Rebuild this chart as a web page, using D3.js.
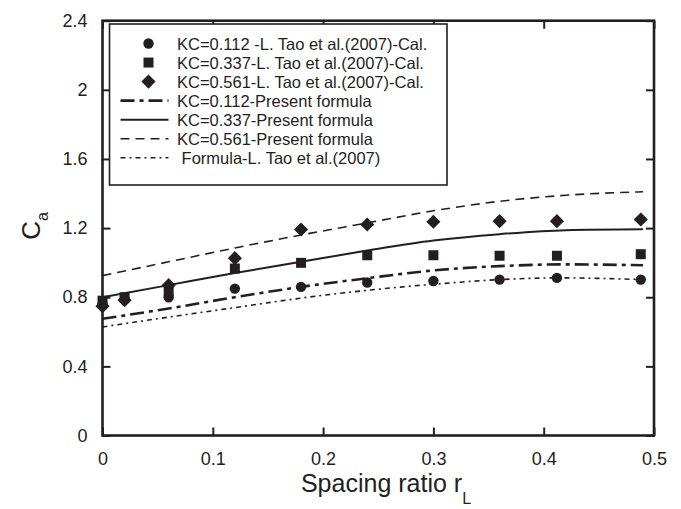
<!DOCTYPE html>
<html><head><meta charset="utf-8">
<script src="https://cdn.jsdelivr.net/npm/d3@7"></script>
<style>body{margin:0;background:#fff}svg{display:block}text{font-family:"Liberation Sans",Arial,sans-serif;fill:#231f20}</style>
</head><body>
<svg id="c" width="681" height="509"></svg>
<script>
// ---- data ----
const xCal = [0, 0.02, 0.06, 0.12, 0.18, 0.24, 0.30, 0.36, 0.412, 0.488];
const cal112 = [0.76, 0.79, 0.80, 0.85, 0.86, 0.885, 0.894, 0.902, 0.912, 0.902];
const cal337 = [0.78, 0.80, 0.835, 0.966, 0.999, 1.043, 1.043, 1.04, 1.04, 1.049];
const cal561 = [0.748, 0.783, 0.87, 1.026, 1.192, 1.221, 1.237, 1.24, 1.24, 1.25];
const xFit = [0, 0.06, 0.12, 0.18, 0.24, 0.30, 0.36, 0.42, 0.49];
const fit112 = [0.675, 0.735, 0.80, 0.86, 0.91, 0.955, 0.98, 0.99, 0.985];
const fit337 = [0.80, 0.87, 0.94, 1.005, 1.07, 1.128, 1.165, 1.188, 1.193];
const fit561 = [0.925, 1.005, 1.085, 1.16, 1.23, 1.30, 1.355, 1.39, 1.41];
const xTao = [0, 0.06, 0.12, 0.18, 0.24, 0.30, 0.36, 0.412, 0.49];
const taoFormula = [0.628, 0.685, 0.74, 0.795, 0.84, 0.875, 0.902, 0.912, 0.902];
const xTicks = [0, 0.1, 0.2, 0.3, 0.4, 0.5];
const yTicks = [0, 0.4, 0.8, 1.2, 1.6, 2, 2.4];
const legendLabels = [
  "KC=0.112 -L. Tao et al.(2007)-Cal.",
  "KC=0.337-L. Tao et al.(2007)-Cal.",
  "KC=0.561-L. Tao et al.(2007)-Cal.",
  "KC=0.112-Present formula",
  "KC=0.337-Present formula",
  "KC=0.561-Present formula",
  " Formula-L. Tao et al.(2007)"
];

// ---- layout ----
const L = 102.5, R = 654, T = 20.7, B = 435.5;
const x = d3.scaleLinear().domain([0, 0.5]).range([L, R]);
const y = d3.scaleLinear().domain([0, 2.4]).range([B, T]);
const svg = d3.select("#c");
const ink = "#231f20";

// lines
const styles = {
  f112: {w: 2.6, dash: "14,5,4,5"},
  f337: {w: 2, dash: null},
  f561: {w: 1.6, dash: "9,6"},
  tao: {w: 1.6, dash: "5,4,2,4"}
};
const line = d3.line().x(d => x(d[0])).y(d => y(d[1])).curve(d3.curveMonotoneX);
function drawLine(xs, ys, st) {
  svg.append("path").attr("d", line(xs.map((v, i) => [v, ys[i]])))
    .attr("fill", "none").attr("stroke", ink).attr("stroke-width", st.w)
    .attr("stroke-dasharray", st.dash);
}
drawLine(xTao, taoFormula, styles.tao);
drawLine(xFit, fit112, styles.f112);
drawLine(xFit, fit337, styles.f337);
drawLine(xFit, fit561, styles.f561);

// markers
const symCircle = d3.symbol().type(d3.symbolCircle).size(85);
const symSquare = d3.symbol().type(d3.symbolSquare).size(100);
const diamondType = { draw(ctx, size) { const r = Math.sqrt(size / 2); ctx.moveTo(0, -r); ctx.lineTo(r, 0); ctx.lineTo(0, r); ctx.lineTo(-r, 0); ctx.closePath(); } };
const symDiamond = d3.symbol().type(diamondType).size(100);
function drawMarkers(ys, sym) {
  svg.append("g").selectAll("path").data(ys).join("path")
    .attr("d", sym).attr("fill", ink)
    .attr("transform", (d, i) => `translate(${x(xCal[i])},${y(d)})`);
}
drawMarkers(cal112, symCircle);
drawMarkers(cal337, symSquare);
drawMarkers(cal561, symDiamond);

// frame and ticks
const tl = 8;
const gx = svg.append("g").attr("transform", `translate(0,${B})`)
  .call(d3.axisBottom(x).tickValues(xTicks).tickSize(-tl).tickPadding(tl + 9).tickFormat(d3.format("")));
const gxt = svg.append("g").attr("transform", `translate(0,${T})`)
  .call(d3.axisTop(x).tickValues(xTicks).tickSize(-tl).tickFormat(""));
const gy = svg.append("g").attr("transform", `translate(${L},0)`)
  .call(d3.axisLeft(y).tickValues(yTicks).tickSize(-tl).tickPadding(tl + 7).tickFormat(d3.format("")));
const gyr = svg.append("g").attr("transform", `translate(${R},0)`)
  .call(d3.axisRight(y).tickValues(yTicks).tickSize(-tl).tickFormat(""));
[gx, gxt, gy, gyr].forEach(g => {
  g.select(".domain").remove();
  g.selectAll(".tick line").attr("stroke", ink).attr("stroke-width", 2);
  g.selectAll("text").style("font-size", "18px").attr("fill", "#333");
});
svg.append("rect").attr("x", L).attr("y", T).attr("width", R - L).attr("height", B - T)
  .attr("fill", "none").attr("stroke", ink).attr("stroke-width", 2.6);

// axis titles
const xt = svg.append("text").attr("x", 386).attr("y", 492).attr("text-anchor", "middle").style("font-size", "25px");
xt.append("tspan").text("Spacing ratio r");
xt.append("tspan").attr("dy", 12).style("font-size", "16px").text("L");
const yt = svg.append("text").attr("transform", "translate(40,226) rotate(-90)").attr("text-anchor", "middle").style("font-size", "26px");
yt.append("tspan").text("C");
yt.append("tspan").attr("dy", 8).style("font-size", "16px").text("a");

// legend
const lg = svg.append("g");
lg.append("rect").attr("x", 109.5).attr("y", 24).attr("width", 337.5).attr("height", 161)
  .attr("fill", "#fff").attr("stroke", ink).attr("stroke-width", 1.6);
const rowY = i => 43.5 + i * 19.05;
const legSyms = [symCircle, symSquare, symDiamond];
legSyms.forEach((s, i) => {
  lg.append("path").attr("d", s).attr("fill", ink).attr("transform", `translate(148.5,${rowY(i)})`);
});
[styles.f112, styles.f337, styles.f561, styles.tao].forEach((st, k) => {
  const i = k + 3;
  lg.append("line").attr("x1", 120.5).attr("x2", 168.5).attr("y1", rowY(i)).attr("y2", rowY(i))
    .attr("stroke", ink).attr("stroke-width", st.w).attr("stroke-dasharray", st.dash);
});
legendLabels.forEach((t, i) => {
  lg.append("text").attr("x", 177).attr("y", rowY(i) + 6).style("font-size", "16.5px")
    .attr("xml:space", "preserve").style("white-space", "pre").text(t);
});
</script>
</body></html>
